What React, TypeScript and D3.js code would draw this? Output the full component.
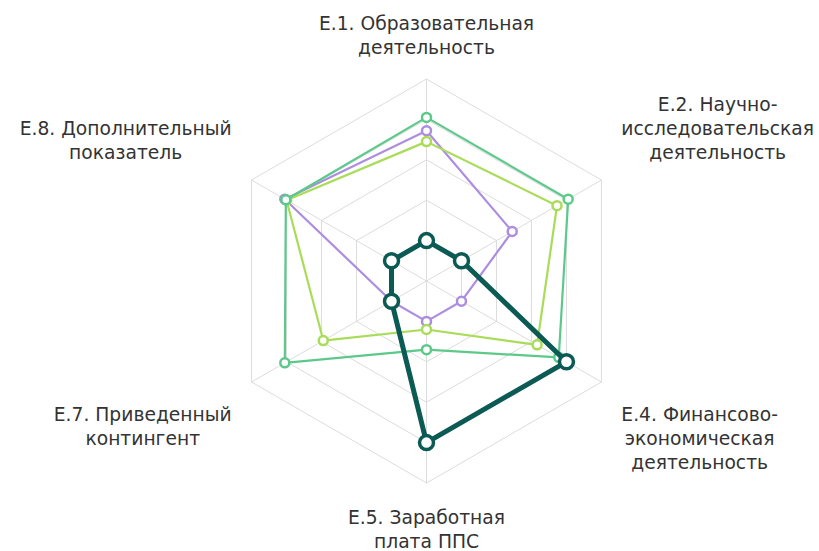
import React, { useEffect, useRef } from "react";
import * as d3 from "d3";

const axisLabels: string[][] = [
  ["Е.1. Образовательная", "деятельность"],
  ["Е.2. Научно-", "исследовательская", "деятельность"],
  ["Е.4. Финансово-", "экономическая", "деятельность"],
  ["Е.5. Заработная", "плата ППС"],
  ["Е.7. Приведенный", "контингент"],
  ["Е.8. Дополнительный", "показатель"],
];

const gridLevels = [1, 2, 3, 4, 5];

const seriesPurple = [3.72, 2.45, 1.0, 1.0, 1.0, 4.05];
const seriesLight = [3.45, 3.73, 3.16, 1.2, 2.95, 4.0];
const seriesMedium = [4.05, 4.05, 3.78, 1.7, 4.05, 4.02];
const seriesDark = [1.0, 1.0, 4.0, 4.0, 1.0, 1.0];

const seriesList = [
  { values: seriesPurple, color: "#ad8de0", width: 2.2, r: 4.5, sw: 2.5 },
  { values: seriesLight, color: "#a9dc58", width: 2.2, r: 4.5, sw: 2.5 },
  { values: seriesMedium, color: "#5cc98b", width: 2.2, r: 4.5, sw: 2.5 },
  { values: seriesDark, color: "#0b5a53", width: 5, r: 7, sw: 3.5 },
];

const W = 819;
const H = 551;
const cx = 426.5;
const cy = 281;
const R = 202;
const labelPad = 23;
const lineH = 24;

export default function App() {
  const ref = useRef<SVGSVGElement>(null);
  useEffect(() => {
    const svg = d3.select(ref.current);
    svg.selectAll("*").remove();
    const n = axisLabels.length;
    const rScale = d3.scaleLinear().domain([0, 5]).range([0, R]);
    const angle = (i: number) => (i * 2 * Math.PI) / n;
    const pt = (i: number, v: number): [number, number] => [
      cx + rScale(v) * Math.sin(angle(i)),
      cy - rScale(v) * Math.cos(angle(i)),
    ];
    const lineGen = d3.line<number>().x((v, i) => pt(i, v)[0]).y((v, i) => pt(i, v)[1]).curve(d3.curveLinearClosed);

    const grid = svg.append("g");
    gridLevels.forEach((lv) => {
      grid.append("path")
        .attr("d", lineGen(d3.range(n).map(() => lv)) as string)
        .attr("fill", "none").attr("stroke", "#dcdcdc").attr("stroke-width", 1);
    });
    d3.range(n).forEach((i) => {
      const [x, y] = pt(i, 5);
      grid.append("line").attr("x1", cx).attr("y1", cy).attr("x2", x).attr("y2", y)
        .attr("stroke", "#dcdcdc").attr("stroke-width", 1);
    });

    seriesList.forEach((s) => {
      const g = svg.append("g");
      g.append("path").attr("d", lineGen(s.values) as string)
        .attr("fill", "none").attr("stroke", s.color).attr("stroke-width", s.width)
        .attr("stroke-linejoin", "round");
      s.values.forEach((v, i) => {
        const [x, y] = pt(i, v);
        g.append("circle").attr("cx", x).attr("cy", y).attr("r", s.r)
          .attr("fill", "#fff").attr("stroke", s.color).attr("stroke-width", s.sw);
      });
    });

    const labels = svg.append("g")
      .attr("font-family", "'DejaVu Sans', sans-serif")
      .attr("font-size", 18.7).attr("fill", "#333");
    axisLabels.forEach((lines, i) => {
      const g = labels.append("g");
      const t = g.append("text").attr("text-anchor", "middle");
      lines.forEach((ln, j) => {
        t.append("tspan").attr("x", 0).attr("y", j * lineH).text(ln);
      });
      const bb = (g.node() as SVGGElement).getBBox();
      const a = angle(i);
      const ax = cx + (R + labelPad) * Math.sin(a);
      const ay = cy - (R + labelPad) * Math.cos(a);
      const s = Math.sin(a), c = Math.cos(a);
      let left = ax - bb.width / 2;
      if (s > 0.01) left = ax;
      else if (s < -0.01) left = ax - bb.width;
      let top = ay - bb.height / 2;
      if (c > 0.99) top = ay - bb.height + 2;
      else if (c > 0.01) top = ay - bb.height - 6;
      else if (c < -0.99) top = ay + 1;
      else if (c < -0.01) top = ay + 10;
      g.attr("transform", `translate(${left - bb.x},${top - bb.y})`);
    });
  }, []);
  return (
    <svg ref={ref} width={W} height={H} style={{ position: "absolute", left: 0, top: 0, background: "#fff" }} />
  );
}
